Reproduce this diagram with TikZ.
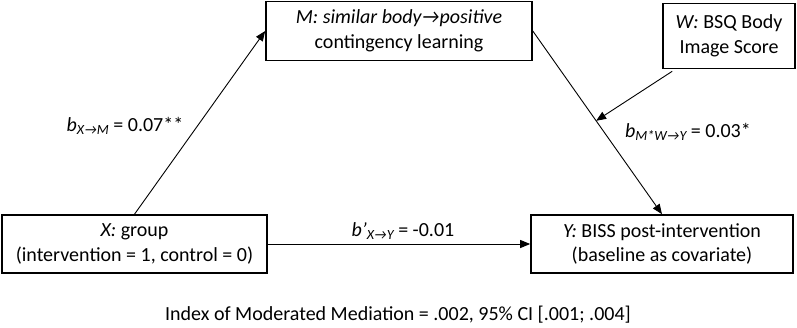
\documentclass[tikz,border=0pt]{standalone}
\usepackage{fontspec}
\setmainfont{Carlito}
\usetikzlibrary{arrows.meta,calc}
\newcommand{\lsub}[1]{\raisebox{-0.35ex}{\fontsize{14}{14}\selectfont\itshape #1}}
\begin{document}
\begin{tikzpicture}[x=1pt,y=-1pt,
  every node/.style={font=\fontsize{20}{24.5}\selectfont},
  box/.style={draw,line width=1.6pt,align=center,inner sep=2pt},
  conn/.style={line width=0.9pt,-{Triangle[length=10pt,width=8pt]}},
  lbl/.style={inner sep=0pt}]
\useasboundingbox (0,0) rectangle (797,327);
\node[box,minimum width=266pt,minimum height=59pt] (M) at (399,31) {\textit{M: similar body→positive}\\contingency learning};
\node[box,minimum width=132pt,minimum height=65pt] (W) at (729,36) {\textit{W:} BSQ Body\\Image Score};
\node[box,minimum width=265pt,minimum height=58pt] (X) at (134.5,244) {\textit{X:} group\\(intervention = 1, control = 0)};
\node[box,minimum width=262pt,minimum height=58pt] (Y) at (662,244) {\textit{Y:} BISS post-intervention\\(baseline as covariate)};
\draw[conn] (X.north) -- (M.west);
\draw[conn] (M.east) -- (Y.north);
\coordinate (T) at ($(M.east)!0.49!(Y.north)$);
\coordinate (S) at ($(W.south west)+(10,2)$);
\draw[conn] (S) -- (T);
\draw[conn] (X.east) -- (Y.west);
\node[lbl] (lxm) at (125,126) {\textit{b}\lsub{X→M} = 0.07**};
\node[lbl] (lmw) at (688,132) {\textit{b}\lsub{M*W→Y} = 0.03*};
\node[lbl] (lxy) at (403,231) {\textit{b'}\lsub{X→Y} = -0.01};
\node[lbl] (idx) at (398,315) {Index of Moderated Mediation = .002, 95\% CI [.001; .004]};
\end{tikzpicture}
\end{document}
